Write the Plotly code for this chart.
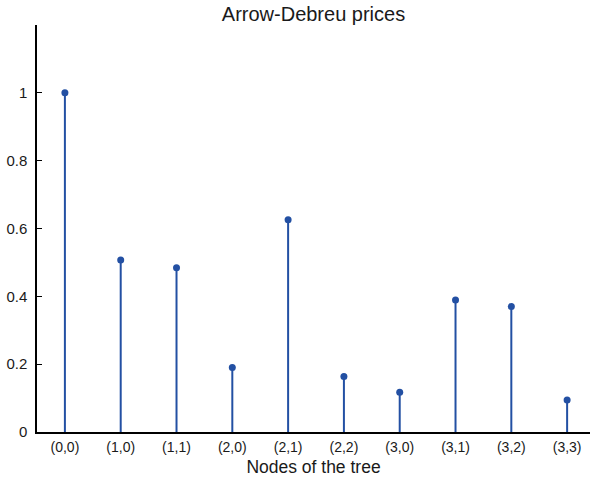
import plotly.graph_objects as go

nodes = ["(0,0)", "(1,0)", "(1,1)", "(2,0)", "(2,1)", "(2,2)", "(3,0)", "(3,1)", "(3,2)", "(3,3)"]
prices = [1.0, 0.507, 0.484, 0.190, 0.626, 0.164, 0.117, 0.389, 0.370, 0.094]
y_ticks = [0, 0.2, 0.4, 0.6, 0.8, 1]
y_tick_labels = ["0", "0.2", "0.4", "0.6", "0.8", "1"]

blue = "#2350a3"

fig = go.Figure()
fig.add_trace(go.Scatter(
    x=nodes, y=prices, mode="markers",
    marker=dict(color=blue, size=7),
    error_y=dict(type="data", symmetric=False, array=[0] * len(prices),
                 arrayminus=prices, width=0, thickness=2, color=blue),
    showlegend=False,
))

fig.update_layout(
    width=590, height=484,
    margin=dict(l=37, r=0, t=25, b=52),
    paper_bgcolor="white", plot_bgcolor="white",
    font=dict(family="Liberation Sans, Arial, sans-serif", color="#1a1a1a"),
    title=dict(text="Arrow-Debreu prices", xref="paper", x=0.5, xanchor="center",
               y=0.972, yanchor="middle", font=dict(size=20, color="#1a1a1a")),
    xaxis=dict(type="category", range=[-0.5, 9.41], showgrid=False, zeroline=False,
               showline=True, linecolor="black", linewidth=1.5, ticks="",
               tickfont=dict(size=14), ticklabelstandoff=1,
               title=dict(text="Nodes of the tree", font=dict(size=17.5), standoff=7)),
    yaxis=dict(range=[0, 1.2], showgrid=False, zeroline=False,
               showline=True, linecolor="black", linewidth=1.5,
               ticks="inside", ticklen=5, tickcolor="black", tickwidth=1.2,
               ticklabelstandoff=5,
               tickvals=y_ticks, ticktext=y_tick_labels, tickfont=dict(size=15)),
)

fig.write_html("out.html", config={"displayModeBar": False},
               post_script="document.body.style.margin='0';")
